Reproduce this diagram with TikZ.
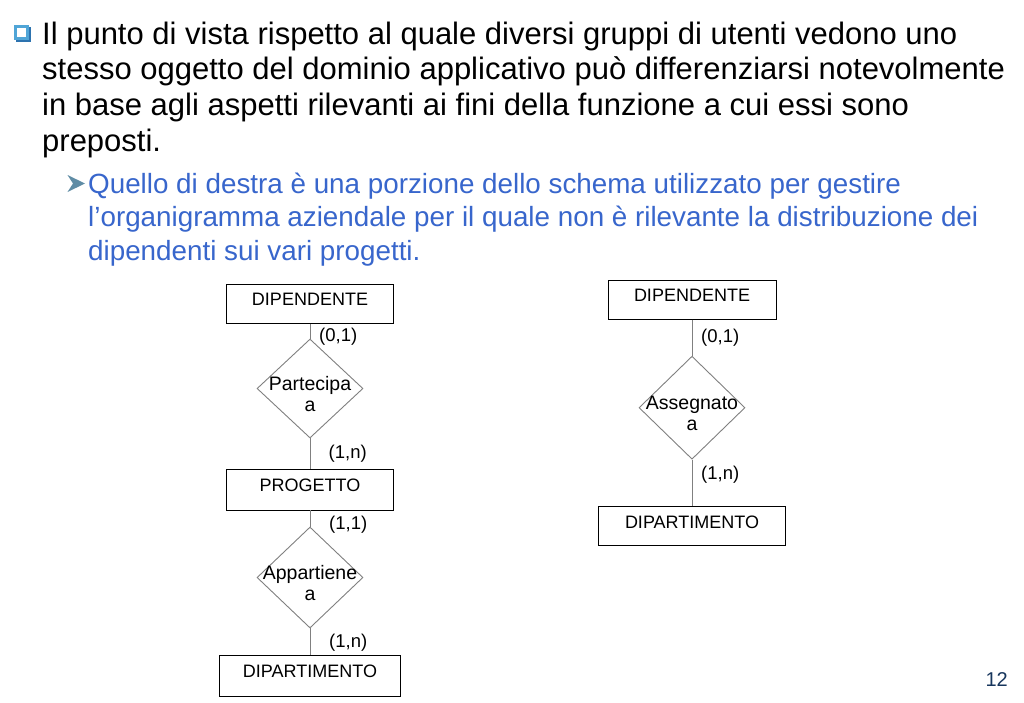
\documentclass[tikz,border=0pt]{standalone}
\usepackage{fontspec}
\setmainfont{Liberation Sans}
\usepackage{xcolor}
\usetikzlibrary{shapes.geometric}
\definecolor{subblue}{RGB}{56,102,204}
\definecolor{bulletblue}{RGB}{80,165,215}
\definecolor{bulletshade}{RGB}{45,115,175}
\definecolor{arrowteal}{RGB}{95,140,165}
\definecolor{pagenavy}{RGB}{23,54,93}
\definecolor{relgray}{RGB}{128,128,128}

\begin{document}
\begin{tikzpicture}[x=1pt,y=-1pt,
    entity/.style={draw=black,line width=0.9pt,minimum height=39pt,text depth=8pt,inner sep=0pt,font=\fontsize{18}{21}\selectfont},
    relation/.style={diamond,draw=relgray,line width=0.9pt,inner sep=0pt,minimum width=106pt},
    reltext/.style={align=center,yshift=-5.5pt,font=\fontsize{19.5}{21}\selectfont},
    card/.style={anchor=west,inner sep=0pt,font=\fontsize{18.5}{21}\selectfont},
    link/.style={draw=relgray,line width=1pt},
    txt/.style={anchor=base west,inner sep=0pt}]
    \path[use as bounding box,fill=white] (0,0) rectangle (1024,702);
    \fill[bulletshade] (16,27) rectangle (31,42);
    \fill[bulletblue] (14,25) rectangle (29,40);
    \fill[white] (17,28) rectangle (26,37);
    \foreach \t [count=\i] in {{Il punto di vista rispetto al quale diversi gruppi di utenti vedono uno},
        {stesso oggetto del dominio applicativo può differenziarsi notevolmente},
        {in base agli aspetti rilevanti ai fini della funzione a cui essi sono},
        {preposti.}}
        { \node[txt,font=\fontsize{31}{35}\selectfont] (main\i) at (42,{44+35.8*(\i-1)}) {\t}; }
    \fill[arrowteal] (67.5,175) -- (85,183.5) -- (67.5,192) -- (73,183.5) -- cycle;
    \foreach \t [count=\i] in {{Quello di destra è una porzione dello schema utilizzato per gestire},
        {l’organigramma aziendale per il quale non è rilevante la distribuzione dei},
        {dipendenti sui vari progetti.}}
        { \node[txt,text=subblue,font=\fontsize{27.8}{32}\selectfont] (sub\i) at (88,{193+33.5*(\i-1)}) {\t}; }

    \node[entity,minimum width=167pt] (dip1) at (310,303.7) {DIPENDENTE};
    \node[relation,minimum height=99pt,label={[reltext]center:Partecipa\\a}] (part1) at (310,388.5) {};
    \node[entity,minimum width=167pt,minimum height=41pt] (prog1) at (310,489.5) {PROGETTO};
    \node[relation,minimum height=101pt,label={[reltext]center:Appartiene\\a}] (app1) at (310,577.5) {};
    \node[entity,minimum width=181pt,minimum height=41pt] (dipart1) at (310,675.5) {DIPARTIMENTO};
    \draw[link] (dip1.south) -- (part1.north);
    \draw[link] (part1.south) -- (prog1.north);
    \draw[link] (prog1.south) -- (app1.north);
    \draw[link] (app1.south) -- (dipart1.north);
    \node[card] (c1) at (319,337) {(0,1)};
    \node[card] (c2) at (328.5,454) {(1,n)};
    \node[card] (c3) at (329,524.5) {(1,1)};
    \node[card] (c4) at (329,643) {(1,n)};

    \node[entity,minimum width=168pt] (dip2) at (692,299.7) {DIPENDENTE};
    \node[relation,minimum height=103pt,label={[reltext]center:Assegnato\\a}] (ass2) at (692,407.7) {};
    \node[entity,minimum width=187pt,minimum height=38.5pt] (dipart2) at (692,525.8) {DIPARTIMENTO};
    \draw[link] (dip2.south) -- (ass2.north);
    \draw[link] (ass2.south) -- (dipart2.north);
    \node[card] (c5) at (701,337.5) {(0,1)};
    \node[card] (c6) at (701,474.7) {(1,n)};

    \node[anchor=base east,inner sep=0pt,text=pagenavy,font=\fontsize{20}{24}\selectfont] (pagenum) at (1008,686) {12};
\end{tikzpicture}
\end{document}
